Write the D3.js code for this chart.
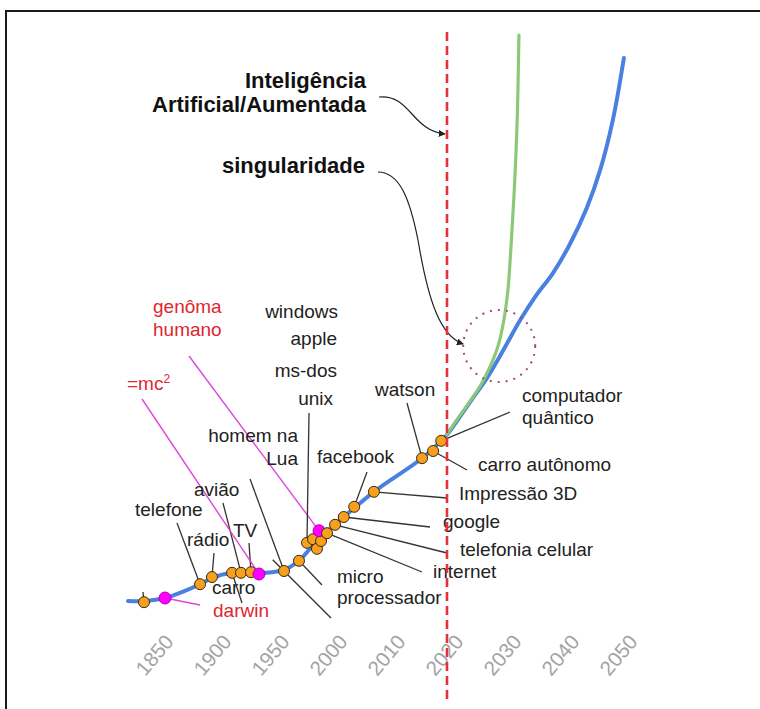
<!DOCTYPE html>
<html>
<head>
<meta charset="utf-8">
<script src="https://cdn.jsdelivr.net/npm/d3@7"></script>
<style>
  html, body { margin: 0; padding: 0; background: #fff; }
  svg { display: block; font-family: "Liberation Sans", Arial, Helvetica, sans-serif; }
</style>
</head>
<body>
<svg id="chart" width="760" height="709"></svg>
<script>
// ---- Eixo do tempo (escala não uniforme) ----
const tickYears  = [1850, 1900, 1950, 2000, 2010, 2020, 2030, 2040, 2050];
const tickLabels = ["1850", "1900", "1950", "2000", "2010", "2020", "2030", "2040", "2050"];

// ---- Curva de evolução tecnológica (azul) ----
const blueYears  = [1825, 1838.8, 1856.9, 1874.1, 1887.1, 1897.4, 1908.6, 1925.9, 1943.1, 1959.5,
                    1972.4, 1984.5, 1996.6, 2002.2, 2007.4, 2015.7, 2019, 2020,
                    2024, 2026.9, 2029.7, 2032.6, 2035.2, 2038.3, 2041.2, 2044.1, 2046.4, 2048.6, 2050.5];
const blueValues = [1.5, 1.5, 2.0, 3.2, 4.3, 5.3, 6.0, 6.2, 6.2, 6.7,
                    8.2, 10.8, 13.0, 15.5, 19.7, 25.3, 28.2, 29.2,
                    34.7, 38.7, 43.3, 48.3, 52.2, 56.2, 61.0, 67.0, 73.3, 81.7, 92.0];

// ---- Curva da singularidade (verde) ----
const greenYears  = [2020, 2021.4, 2024, 2025.7, 2027.4, 2028.8, 2029.8, 2030.5, 2031, 2031.6, 2032.1, 2032.4];
const greenValues = [29.2, 31.3, 34.8, 37.3, 40.5, 44.0, 48.3, 53.3, 60.0, 70.0, 81.7, 95.8];

// ---- Marcos ----
const eventKeys   = ["inicio", "darwin", "telefone", "radio", "carro", "aviao", "tv", "einstein",
                     "lua", "micro", "unix", "msdos", "apple", "windows", "genoma", "internet",
                     "celular", "google", "facebook", "impressao3d", "watson", "autonomo", "quantico"];
const eventYears  = [1838.8, 1856.9, 1887.1, 1897.4, 1914.7, 1922.4, 1931, 1937.9,
                     1959.5, 1972.4, 1979.3, 1984.5, 1987.9, 1991.4, 1989.7, 1996.6,
                     2000.7, 2002.2, 2004, 2007.4, 2015.7, 2017.6, 2019];
const eventValues = [1.3, 2.0, 4.3, 5.5, 6.2, 6.2, 6.3, 6.0,
                     6.5, 8.2, 11.2, 11.8, 10.2, 11.5, 13.2, 12.8,
                     14.2, 15.5, 17.2, 19.7, 25.3, 26.5, 28.2];
const eventKinds  = ["tec", "ciencia", "tec", "tec", "tec", "tec", "tec", "ciencia",
                     "tec", "tec", "tec", "tec", "tec", "tec", "ciencia", "tec",
                     "tec", "tec", "tec", "tec", "tec", "tec", "tec"];

// Ano de referência (linha vertical) e centro da singularidade
const nowYear = 2020;
const singularity = { year: 2029, value: 44 };

// ---- Layout dos rótulos (posições em pixels) ----
const RED = "#e0262f";
const labelLayout = [
  { t: "telefone", x: 135, y: 516 },
  { t: "rádio", x: 187, y: 546 },
  { t: "avião", x: 194, y: 496 },
  { t: "TV", x: 233, y: 537 },
  { t: "carro", x: 212, y: 594 },
  { t: "darwin", x: 213, y: 617, c: RED },
  { t: "=mc", sup: "2", x: 127, y: 390, c: RED },
  { t: "genôma", x: 153, y: 313, c: RED },
  { t: "humano", x: 153, y: 336, c: RED },
  { t: "windows", x: 338, y: 318, a: "end" },
  { t: "apple", x: 337, y: 345, a: "end" },
  { t: "ms-dos", x: 337, y: 377, a: "end" },
  { t: "unix", x: 333, y: 405, a: "end" },
  { t: "homem na", x: 298, y: 442, a: "end" },
  { t: "Lua", x: 298, y: 465, a: "end" },
  { t: "facebook", x: 317, y: 463 },
  { t: "watson", x: 375, y: 396 },
  { t: "computador", x: 522, y: 402 },
  { t: "quântico", x: 522, y: 424 },
  { t: "carro autônomo", x: 478, y: 471 },
  { t: "Impressão 3D", x: 459, y: 500 },
  { t: "google", x: 443, y: 528 },
  { t: "telefonia celular", x: 460, y: 556 },
  { t: "internet", x: 433, y: 578 },
  { t: "micro", x: 337, y: 583 },
  { t: "processador", x: 337, y: 604 }
];

// Linhas de chamada: ponto de partida (px) -> marco
const leaderLayout = [
  { k: "inicio", from: [143, 592] },
  { k: "telefone", from: [177, 523] },
  { k: "radio", from: [214, 553] },
  { k: "aviao", from: [223, 503] },
  { k: "tv", from: [249, 543] },
  { k: "carro", from: [242, 603] },
  { k: "darwin", from: [200, 605], pink: true },
  { k: "einstein", from: [142, 399], pink: true },
  { k: "genoma", from: [189, 356], pink: true },
  { k: "lua", from: [250, 479] },
  { k: "lua", from: [331, 618], extend: 16 },
  { k: "micro", from: [322, 585] },
  { k: "unix", from: [309, 413] },
  { k: "facebook", from: [367, 472] },
  { k: "impressao3d", from: [447, 498] },
  { k: "google", from: [430, 527] },
  { k: "celular", from: [447, 553] },
  { k: "internet", from: [422, 572] },
  { k: "watson", from: [407, 403] },
  { k: "autonomo", from: [467, 470] },
  { k: "quantico", from: [510, 412] }
];

// ---- Escalas ----
const svg = d3.select("#chart");
const tickPos = d3.scalePoint().domain(tickLabels).range([157, 621]);
const x = d3.scaleLinear().domain(tickYears).range(tickLabels.map(l => tickPos(l)));
const y = d3.scaleLinear().domain([0, 100]).range([610, 10]);

const events = eventKeys.map((k, i) => ({ k, year: eventYears[i], value: eventValues[i], kind: eventKinds[i] }));
const byKey = new Map(events.map(e => [e.k, e]));

// ---- Moldura ----
svg.append("path")
  .attr("d", "M6,709 L6,11 L760,11")
  .attr("fill", "none").attr("stroke", "#1a1a1a").attr("stroke-width", 2);

// ---- Marcadores de seta ----
const defs = svg.append("defs");
defs.append("marker")
  .attr("id", "seta").attr("viewBox", "0 0 10 10")
  .attr("refX", 9).attr("refY", 5)
  .attr("markerWidth", 7).attr("markerHeight", 7)
  .attr("markerUnits", "userSpaceOnUse")
  .attr("orient", "auto")
  .append("path").attr("d", "M0,0 L10,5 L0,10 Z").attr("fill", "#222");

// ---- Eixo X ----
const axis = d3.axisBottom(x)
  .tickValues(tickYears)
  .tickFormat((d, i) => tickLabels[i])
  .tickSize(0);
const gx = svg.append("g").attr("transform", "translate(0,655)").call(axis);
gx.select(".domain").remove();
gx.selectAll("text")
  .attr("y", 0).attr("dy", "0.35em")
  .attr("transform", "translate(-3,0) rotate(-50)")
  .attr("text-anchor", "middle")
  .attr("fill", "#a3a3a3")
  .style("font-size", "20.5px")
  .style("font-family", "'Liberation Sans', Arial, sans-serif");

// ---- Curvas ----
const line = d3.line().x(d => x(d[0])).y(d => y(d[1])).curve(d3.curveCatmullRom.alpha(0.5));
svg.append("path")
  .attr("d", line(blueYears.map((yr, i) => [yr, blueValues[i]])))
  .attr("fill", "none").attr("stroke", "#4a80e0").attr("stroke-width", 4)
  .attr("stroke-linecap", "round").attr("stroke-linejoin", "round");
svg.append("path")
  .attr("d", line(greenYears.map((yr, i) => [yr, greenValues[i]])))
  .attr("fill", "none").attr("stroke", "#8cc878").attr("stroke-width", 3.2)
  .attr("stroke-linecap", "round");

// ---- Círculo pontilhado da singularidade ----
const sx = x(singularity.year), sy = y(singularity.value), sr = 36;
svg.append("circle")
  .attr("cx", sx).attr("cy", sy).attr("r", sr)
  .attr("fill", "none").attr("stroke", "#a04a78").attr("stroke-width", 2)
  .attr("stroke-dasharray", "2,6");

// ---- Linhas de chamada ----
leaderLayout.forEach(l => {
  const e = byKey.get(l.k);
  let ex = x(e.year), ey = y(e.value);
  if (l.extend) {
    const dx = ex - l.from[0], dy = ey - l.from[1], len = Math.hypot(dx, dy);
    ex += dx / len * l.extend; ey += dy / len * l.extend;
  }
  svg.append("line")
    .attr("x1", l.from[0]).attr("y1", l.from[1]).attr("x2", ex).attr("y2", ey)
    .attr("stroke", l.pink ? "#dd44dd" : "#333").attr("stroke-width", l.pink ? 1.4 : 1.3);
});

// ---- Marcos ----
svg.append("g").selectAll("circle")
  .data(events)
  .join("circle")
  .attr("cx", d => x(d.year)).attr("cy", d => y(d.value))
  .attr("r", d => d.kind === "ciencia" ? 6 : 5.5)
  .attr("fill", d => d.kind === "ciencia" ? "#ff00ff" : "#f7a01e")
  .attr("stroke", d => d.kind === "ciencia" ? "#b000b0" : "#3a2a10")
  .attr("stroke-width", 1);

// ---- Rótulos ----
const lbl = svg.append("g").style("font-size", "19px");
labelLayout.forEach(l => {
  const t = lbl.append("text")
    .attr("x", l.x).attr("y", l.y)
    .attr("text-anchor", l.a || "start")
    .attr("fill", l.c || "#222")
    .text(l.t);
  if (l.sup) {
    t.append("tspan").attr("dy", -7).style("font-size", "12px").text(l.sup);
  }
});

// ---- Títulos em negrito com setas ----
const bold = svg.append("g").style("font-size", "22px").style("font-weight", "bold").attr("fill", "#111");
bold.append("text").attr("x", 366).attr("y", 88).attr("text-anchor", "end").text("Inteligência");
bold.append("text").attr("x", 366).attr("y", 112).attr("text-anchor", "end").text("Artificial/Aumentada");
bold.append("text").attr("x", 365).attr("y", 173).attr("text-anchor", "end").text("singularidade");

const nx = x(nowYear);
svg.append("path")
  .attr("d", `M379,97 C410,94 412,131 ${nx - 2},134`)
  .attr("fill", "none").attr("stroke", "#222").attr("stroke-width", 1.2)
  .attr("marker-end", "url(#seta)");
svg.append("path")
  .attr("d", `M378,172 C400,172 410,200 418,240 C428,300 440,336 ${sx - sr},${sy - 2}`)
  .attr("fill", "none").attr("stroke", "#222").attr("stroke-width", 1.2)
  .attr("marker-end", "url(#seta)");

// ---- Linha vertical tracejada (hoje) ----
svg.append("line")
  .attr("x1", nx).attr("x2", nx).attr("y1", 32).attr("y2", 702)
  .attr("stroke", "#e3323a").attr("stroke-width", 2.6)
  .attr("stroke-dasharray", "9,5");
</script>
</body>
</html>
